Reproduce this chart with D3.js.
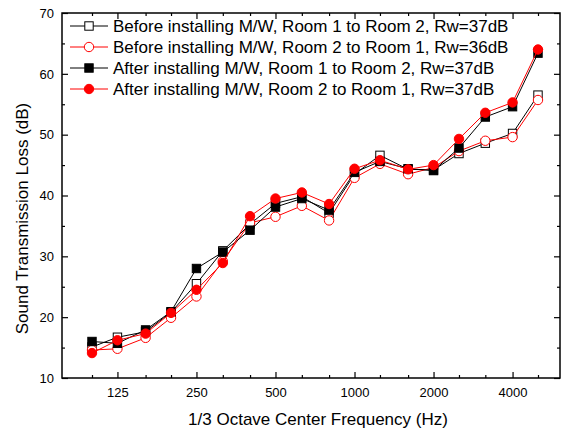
<!DOCTYPE html>
<html>
<head>
<meta charset="utf-8">
<script src="https://cdn.jsdelivr.net/npm/d3@7"></script>
<style>
  body { margin: 0; background: #fff; }
  svg { display: block; font-family: "Liberation Sans", Arial, sans-serif; }
</style>
</head>
<body>
<div id="chart"></div>
<script>
// 1/3 octave centre frequencies (Hz)
const freqs = [100, 125, 160, 200, 250, 315, 400, 500, 630, 800, 1000, 1250, 1600, 2000, 2500, 3150, 4000, 5000];
const xTickLabels = [125, 250, 500, 1000, 2000, 4000];
const yTicks = [10, 20, 30, 40, 50, 60, 70];
const yMinorTicks = [15, 25, 35, 45, 55, 65];

// sound transmission loss (dB)
const beforeR12 = [15.1, 16.7, 17.6, 20.8, 25.5, 30.9, 35.3, 38.7, 39.8, 37.1, 43.5, 46.6, 44.3, 44.2, 46.9, 48.6, 50.2, 56.5];
const beforeR21 = [14.6, 14.8, 16.6, 19.9, 23.4, 29.2, 35.5, 36.5, 38.3, 35.9, 42.9, 45.2, 43.5, 44.6, 47.3, 49.0, 49.6, 55.7];
const afterR12  = [16.0, 15.7, 17.9, 20.9, 28.0, 30.7, 34.3, 38.1, 39.5, 37.6, 43.8, 45.6, 44.4, 44.1, 47.8, 52.9, 54.6, 63.4];
const afterR21  = [14.1, 16.2, 17.3, 20.7, 24.5, 28.9, 36.6, 39.5, 40.5, 38.6, 44.4, 45.8, 44.3, 45.0, 49.3, 53.6, 55.3, 64.0];

const seriesNames = [
  "Before installing M/W, Room 1 to Room 2, Rw=37dB",
  "Before installing M/W, Room 2 to Room 1, Rw=36dB",
  "After installing M/W, Room 1 to Room 2, Rw=37dB",
  "After installing M/W, Room 2 to Room 1, Rw=37dB"
];

const series = [
  { name: seriesNames[0], values: beforeR12, color: "#000", shape: "square", filled: false },
  { name: seriesNames[1], values: beforeR21, color: "#f00", shape: "circle", filled: false },
  { name: seriesNames[2], values: afterR12,  color: "#000", shape: "square", filled: true },
  { name: seriesNames[3], values: afterR21,  color: "#f00", shape: "circle", filled: true }
];

const width = 563, height = 432;
const frame = { left: 62, right: 560, top: 13, bottom: 378 };

const svg = d3.select("#chart").append("svg")
  .attr("width", width)
  .attr("height", height);

const x = d3.scaleLog().domain([100, 5000]).range([92, 538]);
const y = d3.scaleLinear().domain([10, 70]).range([frame.bottom, frame.top]);

// ticks all point inward
function xAxis(gen, values, size, labels) {
  return gen(x).tickValues(values).tickSizeInner(-size).tickSizeOuter(0)
    .tickPadding(labels ? 10 : 0)
    .tickFormat(labels ? d3.format("d") : "");
}
function yAxis(gen, values, size, labels) {
  return gen(y).tickValues(values).tickSizeInner(-size).tickSizeOuter(0)
    .tickPadding(labels ? 8 : 0)
    .tickFormat(labels ? d3.format("d") : "");
}

const minorX = freqs.filter(f => !xTickLabels.includes(f));

const axes = [
  [d3.axisBottom, `translate(0,${frame.bottom})`, xAxis, minorX, 3, false],
  [d3.axisBottom, `translate(0,${frame.bottom})`, xAxis, xTickLabels, 6, true],
  [d3.axisTop, `translate(0,${frame.top})`, xAxis, minorX, 3, false],
  [d3.axisTop, `translate(0,${frame.top})`, xAxis, xTickLabels, 6, false],
  [d3.axisLeft, `translate(${frame.left},0)`, yAxis, yMinorTicks, 3, false],
  [d3.axisLeft, `translate(${frame.left},0)`, yAxis, yTicks, 6, true],
  [d3.axisRight, `translate(${frame.right},0)`, yAxis, yMinorTicks, 3, false],
  [d3.axisRight, `translate(${frame.right},0)`, yAxis, yTicks, 6, false]
];

axes.forEach(([gen, tr, fn, vals, size, labels]) => {
  const g = svg.append("g").attr("transform", tr).call(fn(gen, vals, size, labels));
  g.select(".domain").remove();
  g.selectAll(".tick line").attr("stroke", "#000").attr("stroke-width", 1.2);
  g.selectAll(".tick text").attr("fill", "#000").style("font-size", "13px")
    .style("font-family", "'Liberation Sans', Arial, sans-serif");
});

// frame
svg.append("rect")
  .attr("x", frame.left).attr("y", frame.top)
  .attr("width", frame.right - frame.left)
  .attr("height", frame.bottom - frame.top)
  .attr("fill", "none").attr("stroke", "#000").attr("stroke-width", 1.5);

// axis titles
svg.append("text")
  .attr("x", 318)
  .attr("y", 425)
  .attr("text-anchor", "middle")
  .style("font-size", "17px")
  .text("1/3 Octave Center Frequency (Hz)");

svg.append("text")
  .attr("transform", `translate(28,${(frame.top + frame.bottom) / 2 + 23}) rotate(-90)`)
  .attr("text-anchor", "middle")
  .style("font-size", "17px")
  .text("Sound Transmission Loss (dB)");

const line = d3.line().x(d => x(d[0])).y(d => y(d[1]));

function drawMarker(g, cx, cy, s) {
  if (s.shape === "square") {
    g.append("rect")
      .attr("x", cx - 4.2).attr("y", cy - 4.2)
      .attr("width", 8.4).attr("height", 8.4)
      .attr("fill", s.filled ? s.color : "#fff")
      .attr("stroke", s.color).attr("stroke-width", 1);
  } else {
    g.append("circle")
      .attr("cx", cx).attr("cy", cy).attr("r", 4.7)
      .attr("fill", s.filled ? s.color : "#fff")
      .attr("stroke", s.color).attr("stroke-width", 1);
  }
}

series.forEach(s => {
  const pts = freqs.map((f, i) => [f, s.values[i]]);
  const g = svg.append("g");
  g.append("path")
    .attr("d", line(pts))
    .attr("fill", "none")
    .attr("stroke", s.color)
    .attr("stroke-width", 1);
  pts.forEach(p => drawMarker(g, x(p[0]), y(p[1]), s));
});

// legend
const legend = svg.append("g");
series.forEach((s, i) => {
  const ly = 26 + i * 21;
  legend.append("line")
    .attr("x1", 70).attr("x2", 108)
    .attr("y1", ly).attr("y2", ly)
    .attr("stroke", s.color).attr("stroke-width", 1);
  drawMarker(legend, 89, ly, s);
  legend.append("text")
    .attr("x", 113).attr("y", ly)
    .attr("dy", "0.35em")
    .style("font-size", "17px")
    .text(s.name);
});
</script>
</body>
</html>
